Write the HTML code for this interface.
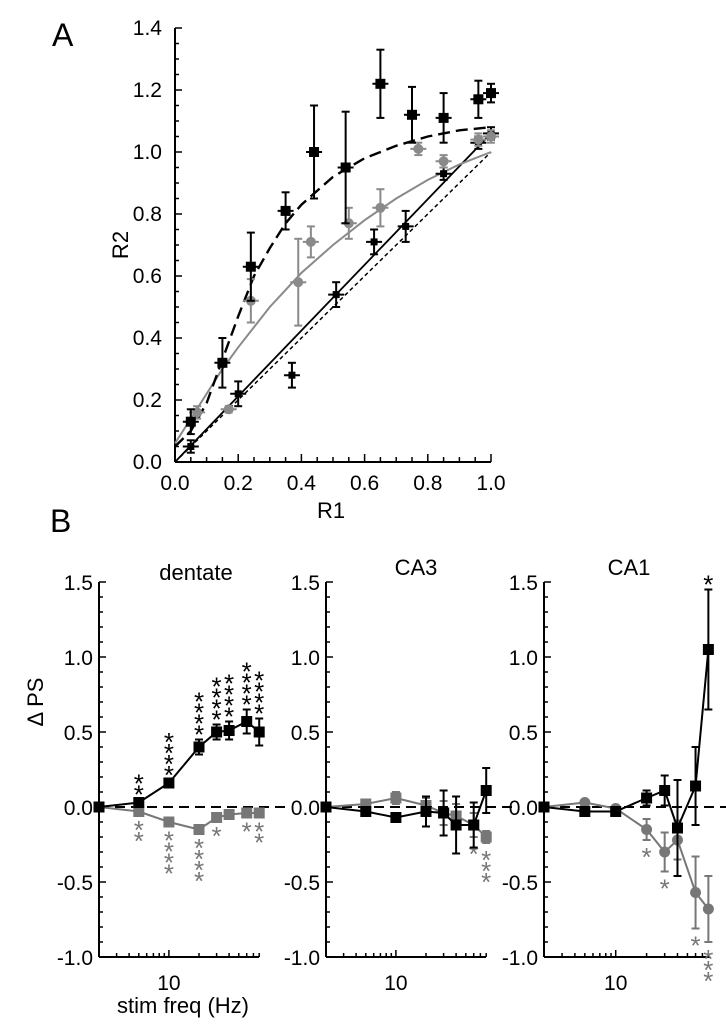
<!DOCTYPE html>
<html><head><meta charset="utf-8"><style>
body{margin:0;background:#fff}
svg{display:block;font-family:"Liberation Sans",sans-serif}
</style></head><body>
<svg id="s" width="726" height="1032" viewBox="0 0 726 1032">
<text x="52" y="46" font-size="32">A</text>
<text x="50" y="532" font-size="32">B</text>
<text transform="translate(128,245) rotate(-90)" text-anchor="middle" font-size="22">R2</text>
<text x="331" y="518" text-anchor="middle" font-size="22">R1</text>
<text transform="translate(43,702) rotate(-90)" text-anchor="middle" font-size="22">Δ PS</text>
<text x="183" y="1013" text-anchor="middle" font-size="22">stim freq (Hz)</text>
<text x="196" y="580" text-anchor="middle" font-size="22">dentate</text>
<text x="416" y="575" text-anchor="middle" font-size="22">CA3</text>
<text x="629" y="575" text-anchor="middle" font-size="22">CA1</text>
<g id="ga"></g><g id="gb"></g>
</svg>
<script>
// ---- Panel A data ----
const aTicks=[0,0.2,0.4,0.6,0.8,1.0];
const aYTicks=[0,0.2,0.4,0.6,0.8,1.0,1.2,1.4];
const blkX=[0.05,0.15,0.24,0.35,0.44,0.54,0.65,0.75,0.85,0.96,1.0];
const blkY=[0.13,0.32,0.63,0.81,1.0,0.95,1.22,1.12,1.11,1.17,1.19];
const blkE=[0.04,0.08,0.11,0.06,0.15,0.18,0.11,0.09,0.08,0.06,0.03];
const gryX=[0.07,0.17,0.24,0.39,0.43,0.55,0.65,0.77,0.85,0.96,1.0];
const gryY=[0.16,0.17,0.52,0.58,0.71,0.77,0.82,1.01,0.97,1.04,1.05];
const gryE=[0.02,0.01,0.07,0.14,0.05,0.05,0.06,0.02,0.02,0.02,0.02];
const triX=[0.05,0.2,0.37,0.51,0.63,0.73,0.85,0.96,1.0];
const triY=[0.05,0.22,0.28,0.54,0.71,0.76,0.93,1.03,1.06];
const triE=[0.02,0.04,0.04,0.04,0.04,0.05,0.02,0.02,0.02];
const fitDashX=[0,0.05,0.1,0.15,0.2,0.25,0.3,0.35,0.4,0.5,0.6,0.7,0.8,0.9,1.0];
const fitDashY=[0.05,0.1,0.19,0.33,0.47,0.6,0.69,0.77,0.83,0.92,0.98,1.02,1.05,1.07,1.08];
const fitGrayX=[0,0.05,0.1,0.15,0.2,0.3,0.4,0.5,0.6,0.7,0.8,0.9,1.0];
const fitGrayY=[0.06,0.14,0.22,0.3,0.37,0.5,0.61,0.7,0.78,0.85,0.91,0.96,1.0];
const fitSolidX=[0,1.0];const fitSolidY=[0,1.06];
const fitDotX=[0,1.0];const fitDotY=[0,1.0];
// ---- Panel B data ----
const freqs=[2,5,10,20,30,40,60,80];
const dgBlk=[0,0.03,0.16,0.40,0.50,0.51,0.57,0.50];
const dgBlkE=[0,0.02,0.02,0.05,0.05,0.06,0.08,0.09];
const dgGry=[0,-0.03,-0.10,-0.15,-0.07,-0.05,-0.04,-0.04];
const dgGryE=[0,0.01,0.01,0.01,0.01,0.01,0.01,0.01];
const dgBlkStars=["","**","****","****","****","****","****","****"];
const dgGryStars=["","**","****","****","*","","*","**"];
const c3Blk=[0,-0.03,-0.07,-0.03,-0.04,-0.12,-0.12,0.11];
const c3BlkE=[0,0.01,0.03,0.1,0.15,0.19,0.15,0.15];
const c3Gry=[0,0.02,0.06,0.01,-0.04,-0.06,-0.12,-0.20];
const c3GryE=[0,0.01,0.04,0.05,0.08,0.08,0.08,0.04];
const c3BlkStars=["","","","","","","",""];
const c3GryStars=["","","","","","","*","***"];
const c1Blk=[0,-0.03,-0.03,0.06,0.11,-0.14,0.14,1.05];
const c1BlkE=[0,0.01,0.03,0.05,0.1,0.32,0.26,0.40];
const c1Gry=[0,0.03,-0.01,-0.15,-0.30,-0.22,-0.57,-0.68];
const c1GryE=[0,0.01,0.02,0.07,0.13,0.13,0.24,0.22];
const c1BlkStars=["","","","","","","","*"];
const c1GryStars=["","","","*","*","","*","***"];
const bYTicks=[-1.0,-0.5,0.0,0.5,1.0,1.5];

const NS="http://www.w3.org/2000/svg";
function mk(p,t,a){const e=document.createElementNS(NS,t);for(const k in a)e.setAttribute(k,a[k]);p.appendChild(e);return e;}
const GRAY="#8a8a8a",DGRAY="#777";

// Panel A
const ga=document.getElementById('ga');
const ax=v=>175+316*v, ay=v=>462-310*v;
let l=mk(ga,'line',{x1:175,y1:ay(1.4),x2:175,y2:462,stroke:'#000','stroke-width':2});


l=mk(ga,'line',{x1:175,y1:462,x2:491,y2:462,stroke:'#000','stroke-width':2});


for(let i=0;i<=20;i++){const v=i*0.05;mk(ga,'line',{x1:ax(v),y1:462,x2:ax(v),y2:i%4==0?454:457,stroke:'#000','stroke-width':1.5});}
for(let i=0;i<=28;i++){const v=i*0.05;mk(ga,'line',{x1:175,y1:ay(v),x2:i%4==0?182:179,y2:ay(v),stroke:'#000','stroke-width':1.5});}
aTicks.forEach(v=>{const t=mk(ga,'text',{x:ax(v),y:490,'text-anchor':'middle','font-size':21});t.textContent=v.toFixed(1);

});
aYTicks.forEach(v=>{const t=mk(ga,'text',{x:162,y:ay(v)+7,'text-anchor':'end','font-size':21});t.textContent=v.toFixed(1);

});
function poly(p,xs,ys,fx,fy,st){return mk(p,'polyline',Object.assign({points:xs.map((x,i)=>fx(x)+','+fy(ys[i])).join(' '),fill:'none'},st));}
l=poly(ga,fitDotX,fitDotY,ax,ay,{stroke:'#000','stroke-width':1.5,'stroke-dasharray':'4,3'});


l=poly(ga,fitSolidX,fitSolidY,ax,ay,{stroke:'#000','stroke-width':1.8});


l=poly(ga,fitGrayX,fitGrayY,ax,ay,{stroke:GRAY,'stroke-width':2});


l=poly(ga,fitDashX,fitDashY,ax,ay,{stroke:'#000','stroke-width':2.4,'stroke-dasharray':'12,6'});


function errA(xs,ys,es,col,shape,sz,name){
  xs.forEach((x,i)=>{const cx=ax(x),cy=ay(ys[i]);
    mk(ga,'line',{x1:cx,y1:ay(ys[i]-es[i]),x2:cx,y2:ay(ys[i]+es[i]),stroke:col,'stroke-width':2});
    [ys[i]-es[i],ys[i]+es[i]].forEach(v=>mk(ga,'line',{x1:cx-4,y1:ay(v),x2:cx+4,y2:ay(v),stroke:col,'stroke-width':2}));
    mk(ga,'line',{x1:cx-8,y1:cy,x2:cx+8,y2:cy,stroke:col,'stroke-width':2});
    let m;
    if(shape=='c')m=mk(ga,'circle',{cx:cx,cy:cy,r:sz/2,fill:col});
    else m=mk(ga,'rect',{x:cx-sz/2,y:cy-sz/2,width:sz,height:sz,fill:col});
    
    
  });
}
errA(triX,triY,triE,'#000','s',7,'point-black-small');
errA(gryX,gryY,gryE,GRAY,'c',10,'point-gray');
errA(blkX,blkY,blkE,'#000','s',10,'point-black');

// Panel B
const gb=document.getElementById('gb');
const by=v=>807-150*v;
function panel(x0,D,xEnd,blk,blkE,gry,gryE,bS,gS,grayShape,name){
  const fx=f=>x0+D*Math.log10(f/2);
  let a=mk(gb,'line',{x1:x0,y1:by(1.5),x2:x0,y2:by(-1),stroke:'#000','stroke-width':2});
  
  
  a=mk(gb,'line',{x1:x0,y1:by(-1),x2:xEnd,y2:by(-1),stroke:'#000','stroke-width':2});
  
  
  for(let i=0;i<=25;i++){const v=-1+i*0.1;mk(gb,'line',{x1:x0,y1:by(v),x2:x0+(i%5==0?7:4),y2:by(v),stroke:'#000','stroke-width':1.5});}
  [3,4,5,6,7,8,9,10,20,30,40,50,60,70,80].forEach(f=>mk(gb,'line',{x1:fx(f),y1:by(-1),x2:fx(f),y2:by(-1)-(f==10?7:4),stroke:'#000','stroke-width':1.5}));
  bYTicks.forEach(v=>{const t=mk(gb,'text',{x:x0-6,y:by(v)+8,'text-anchor':'end','font-size':21});t.textContent=v.toFixed(1);
    
    });
  const t=mk(gb,'text',{x:fx(10),y:by(-1)+33,'text-anchor':'middle','font-size':21});t.textContent='10';
  
  
  const z=mk(gb,'line',{x1:x0,y1:by(0),x2:x0+190,y2:by(0),stroke:'#000','stroke-width':2,'stroke-dasharray':'10,6'});
  
  
  function series(vals,es,col,shape,stars,above,sname){
    poly(gb,freqs,vals,fx,by,{stroke:col,'stroke-width':2});
    freqs.forEach((f,i)=>{const cx=fx(f),cy=by(vals[i]);
      if(es[i]>0.012){mk(gb,'line',{x1:cx,y1:by(vals[i]-es[i]),x2:cx,y2:by(vals[i]+es[i]),stroke:col,'stroke-width':2});
        [vals[i]-es[i],vals[i]+es[i]].forEach(v=>mk(gb,'line',{x1:cx-4,y1:by(v),x2:cx+4,y2:by(v),stroke:col,'stroke-width':2}));}
      let m;
      if(shape=='c')m=mk(gb,'circle',{cx:cx,cy:cy,r:5.5,fill:col});
      else m=mk(gb,'rect',{x:cx-5.5,y:cy-5.5,width:11,height:11,fill:col});
      
      
      const n=stars[i].length;
      for(let k=0;k<n;k++){
        const yy=above?by(vals[i]+es[i])+4-k*11:by(vals[i]-es[i])+26+k*11;
        const s=mk(gb,'text',{x:cx,y:yy,'text-anchor':'middle','font-size':26,fill:col});s.textContent='*';
        
        
      }
    });
  }
  series(gry,gryE,DGRAY,grayShape,gS,false,name+'-gray-point');
  series(blk,blkE,'#000','s',bS,true,name+'-black-point');
}
panel(99,100,259,dgBlk,dgBlkE,dgGry,dgGryE,dgBlkStars,dgGryStars,'s','dentate');
panel(326,100,486,c3Blk,c3BlkE,c3Gry,c3GryE,c3BlkStars,c3GryStars,'s','ca3');
panel(544,102.6,710,c1Blk,c1BlkE,c1Gry,c1GryE,c1BlkStars,c1GryStars,'c','ca1');
</script>
</body></html>
